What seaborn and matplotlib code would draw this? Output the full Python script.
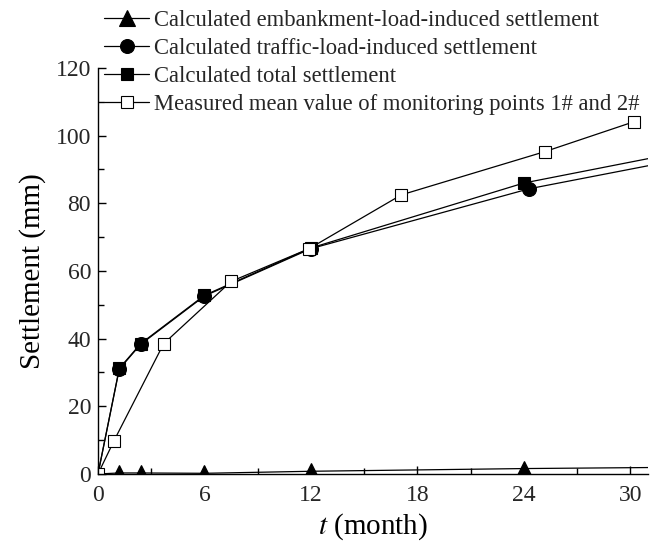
import matplotlib
matplotlib.use("Agg")
import matplotlib.pyplot as plt
import seaborn as sns
import pandas as pd
from matplotlib.ticker import MultipleLocator

# ---- data ----
t_emb = [0, 1.2, 2.4, 6.0, 12.0, 24.0, 31.0]
s_emb = [0, 0.3, 0.3, 0.2, 0.8, 1.6, 1.9]

t_traffic = [0, 1.2, 2.4, 6.0, 12.0, 24.3, 31.0]
s_traffic = [0, 31.0, 38.3, 52.6, 66.6, 84.3, 91.1]

t_total = [0, 1.2, 2.4, 6.0, 12.0, 24.0, 31.0]
s_total = [0, 31.2, 38.5, 52.8, 66.8, 86.0, 93.2]

t_meas = [0, 0.9, 3.7, 7.5, 11.9, 17.1, 25.2, 30.2]
s_meas = [0, 9.8, 38.5, 56.9, 66.6, 82.5, 95.3, 104.1]

labels = [
    "Calculated embankment-load-induced settlement",
    "Calculated traffic-load-induced settlement",
    "Calculated total settlement",
    "Measured mean value of monitoring points 1# and 2#",
]
x_ticks = [0, 6, 12, 18, 24, 30]
y_ticks = [0, 20, 40, 60, 80, 100, 120]

sns.set_theme(style="ticks")
plt.rcParams["font.family"] = ["Liberation Serif", "DejaVu Serif"]
plt.rcParams["mathtext.fontset"] = "stix"

fig = plt.figure(figsize=(6.59, 5.47), dpi=100)
ax = fig.add_axes([0.1487, 0.1335, 0.9833 - 0.1487, 0.8757 - 0.1335])

common = dict(color="black", linewidth=0.9, estimator=None, sort=False, ax=ax,
              markeredgecolor="black", markeredgewidth=0.8)

sns.lineplot(x=t_emb, y=s_emb, marker="^", markersize=11, markevery=[1, 2, 3, 4, 5],
             markerfacecolor="black", label=labels[0], **common)
sns.lineplot(x=t_traffic, y=s_traffic, marker="o", markersize=10, markevery=[1, 2, 3, 4, 5],
             markerfacecolor="black", label=labels[1], **common)
sns.lineplot(x=t_total, y=s_total, marker="s", markersize=9, markevery=[1, 2, 3, 4, 5],
             markerfacecolor="black", label=labels[2], **common)
sns.lineplot(x=t_meas, y=s_meas, marker="s", markersize=9,
             markerfacecolor="white", label=labels[3], **common)

ax.set_xlim(0, 31)
ax.set_ylim(0, 120)
ax.set_xticks(x_ticks)
ax.set_yticks(y_ticks)
ax.xaxis.set_minor_locator(MultipleLocator(3))
ax.yaxis.set_minor_locator(MultipleLocator(10))
ax.tick_params(which="both", direction="in", labelsize=17, color="black", width=1)
ax.tick_params(axis="x", which="major", pad=8)
ax.tick_params(axis="y", which="major", pad=5)
ax.tick_params(which="major", length=6)
ax.tick_params(which="minor", length=4)
ax.spines["top"].set_visible(False)
ax.spines["right"].set_visible(False)
for sp in ("left", "bottom"):
    ax.spines[sp].set_color("black")
    ax.spines[sp].set_linewidth(1.0)

ax.set_xlabel(r"$t$ (month)", fontsize=21, color="black", labelpad=4)
ax.set_ylabel("Settlement (mm)", fontsize=21, color="black", labelpad=7)

handles, labs = ax.get_legend_handles_labels()
leg = fig.legend(handles, labs, loc="upper left", bbox_to_anchor=(0.134, 1.01),
                 frameon=False, fontsize=16.3, handlelength=2.0, handletextpad=0.2,
                 labelspacing=0.3, borderpad=0.2, numpoints=1)
if ax.get_legend():
    ax.get_legend().remove()

fig.savefig("out.png", dpi=100)
